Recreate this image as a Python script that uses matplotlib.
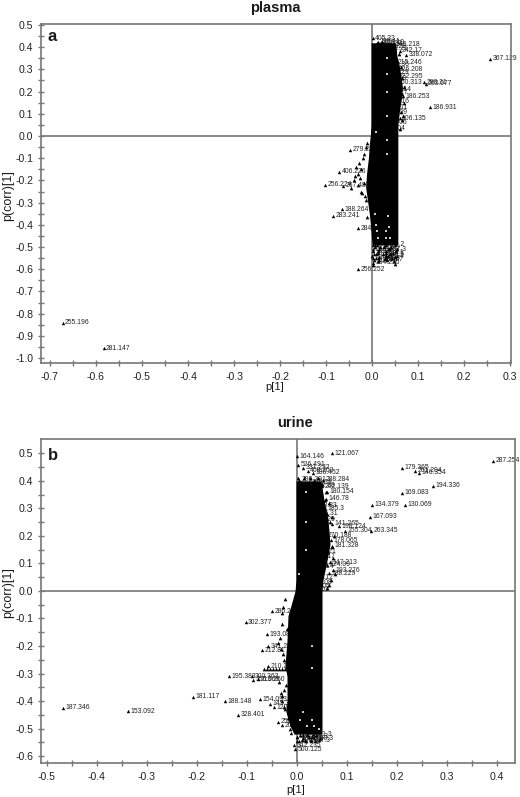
import matplotlib
matplotlib.use("Agg")
import matplotlib.pyplot as plt

plt.rcParams['font.family'] = ['Liberation Sans', 'DejaVu Sans']

# ---- plasma: labelled points
plasma_names = ['405.33', '338.072', '367.129', '298.31', '263.077', '186.931', '186.253', '106.135', '222.295',
                '160.313', '279.23', '406.226', '256.224', '267.487', '188.264', '283.241', '284.2', '256.252',
                '340.093', '384.255', '255.196', '281.147', '134.19', '146.218', '215.246', '226.208', '242.17',
                '171.36', '280.29', '244.19', '317.14', '205.27', '198.16', '233.11', '129.09', '273.06', '310.04',
                '228.41', '307.33', '391.28', '262.21', '252.5', '332.5', '415.2', '357.3', '222.3', '288.1',
                '203.5', '340.5', '290.4', '385.4', '244.7', '306.7']
plasma_x = [0.002, 0.074, 0.257, 0.113, 0.117, 0.126, 0.067, 0.06, 0.054,
            0.05, -0.048, -0.071, -0.102, -0.063, -0.065, -0.085, -0.03, -0.03,
            0.003, 0.003, -0.672, -0.583, 0.02, 0.045, 0.05, 0.052, 0.06,
            0.03, 0.032, 0.024, 0.036, 0.03, 0.03, 0.028, 0.026, 0.026, 0.022,
            0.012, 0.016, 0.024, 0.03, 0.006, 0.018, 0.03, 0.034, 0.012, 0.03,
            0.004, 0.03, 0.002, 0.03, 0.016, 0.028]
plasma_y = [0.44, 0.365, 0.347, 0.243, 0.235, 0.13, 0.18, 0.08, 0.27,
            0.243, -0.063, -0.16, -0.22, -0.225, -0.33, -0.36, -0.415, -0.6,
            -0.55, -0.57, -0.842, -0.955, 0.42, 0.41, 0.33, 0.3, 0.385,
            0.32, 0.285, 0.26, 0.21, 0.195, 0.155, 0.13, 0.105, 0.06, 0.035,
            0.425, 0.415, 0.405, 0.395, -0.49, -0.5, -0.49, -0.51, -0.52, -0.525,
            -0.53, -0.535, -0.51, -0.545, -0.56, -0.555]

# plasma: outline of the solid cloud
plasma_band_y = [0.42, 0.405, 0.36, 0.33, 0.28, 0.22, 0.17, 0.12, 0.05, 0.0, -0.04, -0.10, -0.17, -0.23,
                 -0.29, -0.35, -0.41, -0.49]
plasma_band_l = [-0.002, -0.002, -0.002, -0.002, -0.002, -0.002, -0.002, -0.002, -0.002, -0.004, -0.006,
                 -0.008, -0.012, -0.014, -0.01, -0.006, -0.003, 0.0]
plasma_band_r = [0.05, 0.052, 0.054, 0.058, 0.062, 0.066, 0.064, 0.06, 0.056, 0.056, 0.056, 0.056, 0.056,
                 0.056, 0.056, 0.056, 0.056, 0.056]

# plasma: loose unlabelled points round the cloud
plasma_loose_x = [0.01, 0.022, 0.035, 0.046, 0.058, 0.062, 0.066, 0.07, 0.065, 0.07, 0.062, 0.068, 0.064, 0.06,
                  -0.012, -0.018, -0.028, -0.034, -0.026, -0.04, -0.045, -0.022, -0.014, -0.01,
                  -0.014, -0.02, -0.024, -0.03, -0.018, -0.036, -0.03, -0.016, -0.024,
                  0.002, 0.006, 0.011, 0.015, 0.026, 0.031, 0.036, 0.042, 0.05, 0.054,
                  0.002, 0.008, 0.013, 0.024, 0.03, 0.04, 0.046, 0.052,
                  0.0, 0.009, 0.014, 0.028, 0.034, 0.044, 0.05, 0.055,
                  0.004, 0.012, 0.032, 0.048, 0.002, 0.05]
plasma_loose_y = [0.42, 0.425, 0.41, 0.4, 0.37, 0.31, 0.26, 0.22, 0.19, 0.15, 0.11, 0.09, 0.07, 0.03,
                  -0.03, -0.08, -0.12, -0.14, -0.19, -0.2, -0.235, -0.255, -0.29, -0.365,
                  -0.05, -0.1, -0.15, -0.17, -0.21, -0.18, -0.22, -0.27, -0.25,
                  -0.49, -0.5, -0.49, -0.51, -0.5, -0.49, -0.51, -0.5, -0.49, -0.51,
                  -0.52, -0.53, -0.525, -0.53, -0.52, -0.53, -0.525, -0.52,
                  -0.54, -0.55, -0.545, -0.55, -0.54, -0.55, -0.545, -0.54,
                  -0.56, -0.565, -0.56, -0.565, -0.58, -0.575]

# plasma: pale gaps showing inside the cloud
plasma_gap_x = [0.032, 0.032, 0.032, 0.032, 0.008, 0.032, 0.032, 0.034, 0.036, 0.006, 0.008, 0.01, 0.012, 0.03,
                0.03, 0.038]
plasma_gap_y = [0.35, 0.28, 0.2, 0.09, 0.02, -0.02, -0.08, -0.36, -0.41, -0.35, -0.4, -0.43, -0.46, -0.43,
                -0.46, -0.46]

# ---- urine: labelled points
urine_names = ['164.146', '121.067', '287.254', '179.365', '261.204', '146.354', '194.336', '169.083', '134.379',
               '130.069', '167.093', '263.345', '288.284', '202.139', '180.154', '526.491', '331.232', '408.202',
               '186.452', '299.391', '187.346', '153.092', '181.117', '188.148', '328.401', '195.383', '300.363',
               '356.069', '213.260', '154.093', '145.36', '120.1', '302.377', '286.2', '193.08', '341.2', '212.81',
               '210.2', '258.3', '206.1', '293.35', '342.235', '500.125', '141.265', '198.124', '155.304', '178.065',
               '181.328', '147.213', '193.276', '270.188', '124.09', '188.229', '185.3', '146.78',
               '200.39', '312.38', '178.33', '285.31', '217.29', '243.21', '163.17', '211.14', '342.12', '310.08',
               '297.05', '165.03', '298.3', '401.3', '232.3', '311.3', '292.3', '415.3', '367.3', '240.3']
urine_x = [0.0, 0.07, 0.392, 0.21, 0.236, 0.244, 0.272, 0.21, 0.15,
           0.216, 0.146, 0.148, 0.052, 0.05, 0.06, 0.002, 0.012, 0.022,
           0.032, 0.004, -0.468, -0.338, -0.208, -0.144, -0.118, -0.136, -0.09,
           -0.088, -0.078, -0.074, -0.054, -0.046, -0.103, -0.05, -0.06, -0.058, -0.07,
           -0.058, -0.038, -0.03, -0.012, -0.006, -0.004, 0.07, 0.084, 0.096, 0.068,
           0.07, 0.066, 0.072, 0.056, 0.06, 0.064, 0.056, 0.058,
           0.024, 0.03, 0.034, 0.036, 0.03, 0.032, 0.03, 0.028, 0.026, 0.024,
           0.02, 0.018, 0.0, 0.012, 0.024, 0.032, 0.004, 0.016, 0.028, 0.034]
urine_y = [0.49, 0.5, 0.473, 0.447, 0.436, 0.429, 0.382, 0.356, 0.313,
           0.313, 0.269, 0.218, 0.404, 0.38, 0.36, 0.458, 0.448, 0.436,
           0.43, 0.404, -0.425, -0.437, -0.385, -0.4, -0.45, -0.31, -0.31,
           -0.322, -0.32, -0.393, -0.41, -0.422, -0.113, -0.073, -0.157, -0.2, -0.215,
           -0.273, -0.476, -0.487, -0.516, -0.56, -0.575, 0.245, 0.235, 0.218, 0.185,
           0.165, 0.105, 0.075, 0.2, 0.095, 0.065, 0.3, 0.335,
           0.395, 0.382, 0.31, 0.28, 0.26, 0.145, 0.125, 0.09, 0.05, 0.03,
           0.015, 0.005, -0.53, -0.525, -0.53, -0.52, -0.545, -0.54, -0.545, -0.535]

# urine: outline of the solid cloud
urine_band_y = [0.40, 0.33, 0.26, 0.17, 0.11, 0.04, 0.0, -0.04, -0.09, -0.18, -0.27, -0.31, -0.40, -0.44, -0.49, -0.52]
urine_band_l = [-0.002, -0.002, -0.002, -0.002, -0.002, -0.002, -0.004, -0.01, -0.018, -0.02, -0.024, -0.02, -0.02,
                -0.022, -0.014, -0.006]
urine_band_r = [0.048, 0.054, 0.062, 0.066, 0.06, 0.052, 0.05, 0.05, 0.05, 0.05, 0.05, 0.05, 0.05, 0.05, 0.05, 0.05]

# urine: loose unlabelled points round the cloud
urine_loose_x = [-0.066, -0.06, -0.054, -0.048, -0.042, -0.036, -0.03, -0.024, -0.03, -0.034, -0.038, -0.028, -0.026,
                 -0.032, -0.022, -0.03, -0.024, -0.018, -0.014,
                 -0.024, -0.028, -0.03, -0.02, -0.032, -0.026, -0.036, -0.03, -0.026,
                 0.002, 0.008, 0.014, 0.02, 0.026, 0.034, 0.042, 0.05, 0.056, 0.06, 0.066, 0.07, 0.072,
                 0.076, 0.068, 0.064, 0.06, 0.058, 0.064, 0.07, 0.074, 0.062,
                 0.0, 0.006, 0.012, 0.02, 0.03, 0.038, 0.046, 0.0, 0.01, 0.018, 0.028, 0.036, 0.044]
urine_loose_y = [-0.285, -0.285, -0.285, -0.285, -0.285, -0.285, -0.285, -0.285, -0.08, -0.17, -0.19, -0.23, -0.36,
                 -0.37, -0.34, -0.4, -0.43, -0.46, -0.5,
                 -0.03, -0.06, -0.12, -0.14, -0.21, -0.25, -0.33, -0.38, -0.42,
                 0.41, 0.395, 0.41, 0.39, 0.41, 0.4, 0.41, 0.39, 0.33, 0.28, 0.25, 0.16, 0.12,
                 0.06, 0.04, 0.02, 0.01, 0.36, 0.32, 0.27, 0.2, 0.14,
                 -0.53, -0.525, -0.535, -0.525, -0.53, -0.525, -0.535, -0.545, -0.54, -0.545, -0.54, -0.545, -0.54]

# urine: pale gaps inside the cloud
urine_gap_x = [0.018, 0.018, 0.018, 0.004, 0.03, 0.03, 0.012, 0.03, 0.006, 0.02, 0.034, 0.044]
urine_gap_y = [0.36, 0.25, 0.15, 0.06, -0.2, -0.28, -0.44, -0.47, -0.47, -0.49, -0.49, -0.5]

# ticks
plasma_xticks = [-0.7, -0.6, -0.5, -0.4, -0.3, -0.2, -0.1, 0.0, 0.1, 0.2, 0.3]
plasma_yticks = [0.5, 0.4, 0.3, 0.2, 0.1, 0.0, -0.1, -0.2, -0.3, -0.4, -0.5, -0.6, -0.7, -0.8, -0.9, -1.0]
urine_xticks = [-0.5, -0.4, -0.3, -0.2, -0.1, 0.0, 0.1, 0.2, 0.3, 0.4]
urine_yticks = [0.5, 0.4, 0.3, 0.2, 0.1, 0.0, -0.1, -0.2, -0.3, -0.4, -0.5, -0.6]

W, H = 520, 797
GREY = '#777777'


def ftext(px, py, s, **kw):
    # place text by pixel position in the 520x797 picture
    fig.text(px / W, 1 - py / H, s, color='#1a1a1a', **kw)


def panel(box, xlim, ylim, xticks, yticks, xpad, band, loose, gaps, names, xs, ys):
    l, t, r, b = box
    ax = fig.add_axes([l / W, 1 - b / H, (r - l) / W, (b - t) / H])
    ax.set_xlim(xlim)
    ax.set_ylim(ylim)
    for s in ax.spines.values():
        s.set_color(GREY)
        s.set_linewidth(1.2)
    ax.axhline(0, color=GREY, lw=1.2, zorder=1)
    ax.axvline(0, color=GREY, lw=1.2, zorder=1)

    ax.fill_betweenx(band[0], band[1], band[2], color='k', lw=0, zorder=3)
    ax.scatter(loose[0], loose[1], marker='^', s=7, c='k', linewidths=0, zorder=3)
    ax.scatter(xs, ys, marker='^', s=6, c='k', linewidths=0, zorder=3)
    ax.scatter(gaps[0], gaps[1], marker='s', s=0.8, c='#cccccc', linewidths=0, zorder=4)
    for n, x, y in zip(names, xs, ys):
        ax.annotate(n, (x, y), xytext=(1.6, 0), textcoords='offset points', fontsize=4.9, va='center',
                    color='#222222', annotation_clip=False, zorder=2)

    ax.set_xticks(xticks)
    ax.set_yticks(yticks)
    ax.set_xticklabels(['%.1f' % v for v in xticks])
    ax.set_yticklabels(['%.1f' % v for v in yticks])
    ax.set_xticks([v + 0.05 for v in xticks[:-1]], minor=True)
    ax.set_yticks([v - 0.05 for v in yticks[:-1]], minor=True)
    ax.tick_params(which='both', direction='inout', color=GREY, width=1, length=5, labelcolor='#222222')
    ax.tick_params(axis='x', labelsize=7.6, pad=4)
    ax.tick_params(axis='y', labelsize=7.6, pad=3)
    return ax


fig = plt.figure(figsize=(W / 100, H / 100), dpi=100)
panel((41, 24, 511, 363), (-0.7196, 0.302), (-1.0225, 0.5045), plasma_xticks, plasma_yticks, 4,
      (plasma_band_y, plasma_band_l, plasma_band_r), (plasma_loose_x, plasma_loose_y), (plasma_gap_x, plasma_gap_y),
      plasma_names, plasma_x, plasma_y)
panel((41, 439, 515, 763), (-0.512, 0.436), (-0.625, 0.552), urine_xticks, urine_yticks, 3,
      (urine_band_y, urine_band_l, urine_band_r), (urine_loose_x, urine_loose_y), (urine_gap_x, urine_gap_y),
      urine_names, urine_x, urine_y)

ftext(275, 8, 'plasma', fontsize=10.5, fontweight='bold', ha='center', va='center')
ftext(295, 423, 'urine', fontsize=10.5, fontweight='bold', ha='center', va='center')
ftext(48, 41, 'a', fontsize=12, fontweight='bold', ha='left', va='baseline')
ftext(48, 460, 'b', fontsize=12, fontweight='bold', ha='left', va='baseline')
ftext(275, 387, 'p[1]', fontsize=8, ha='center', va='center')
ftext(296, 790, 'p[1]', fontsize=8, ha='center', va='center')
ftext(8, 196, 'p(corr)[1]', fontsize=9, rotation=90, ha='center', va='center')
ftext(8, 593, 'p(corr)[1]', fontsize=9, rotation=90, ha='center', va='center')

fig.savefig('out.png', dpi=100)
